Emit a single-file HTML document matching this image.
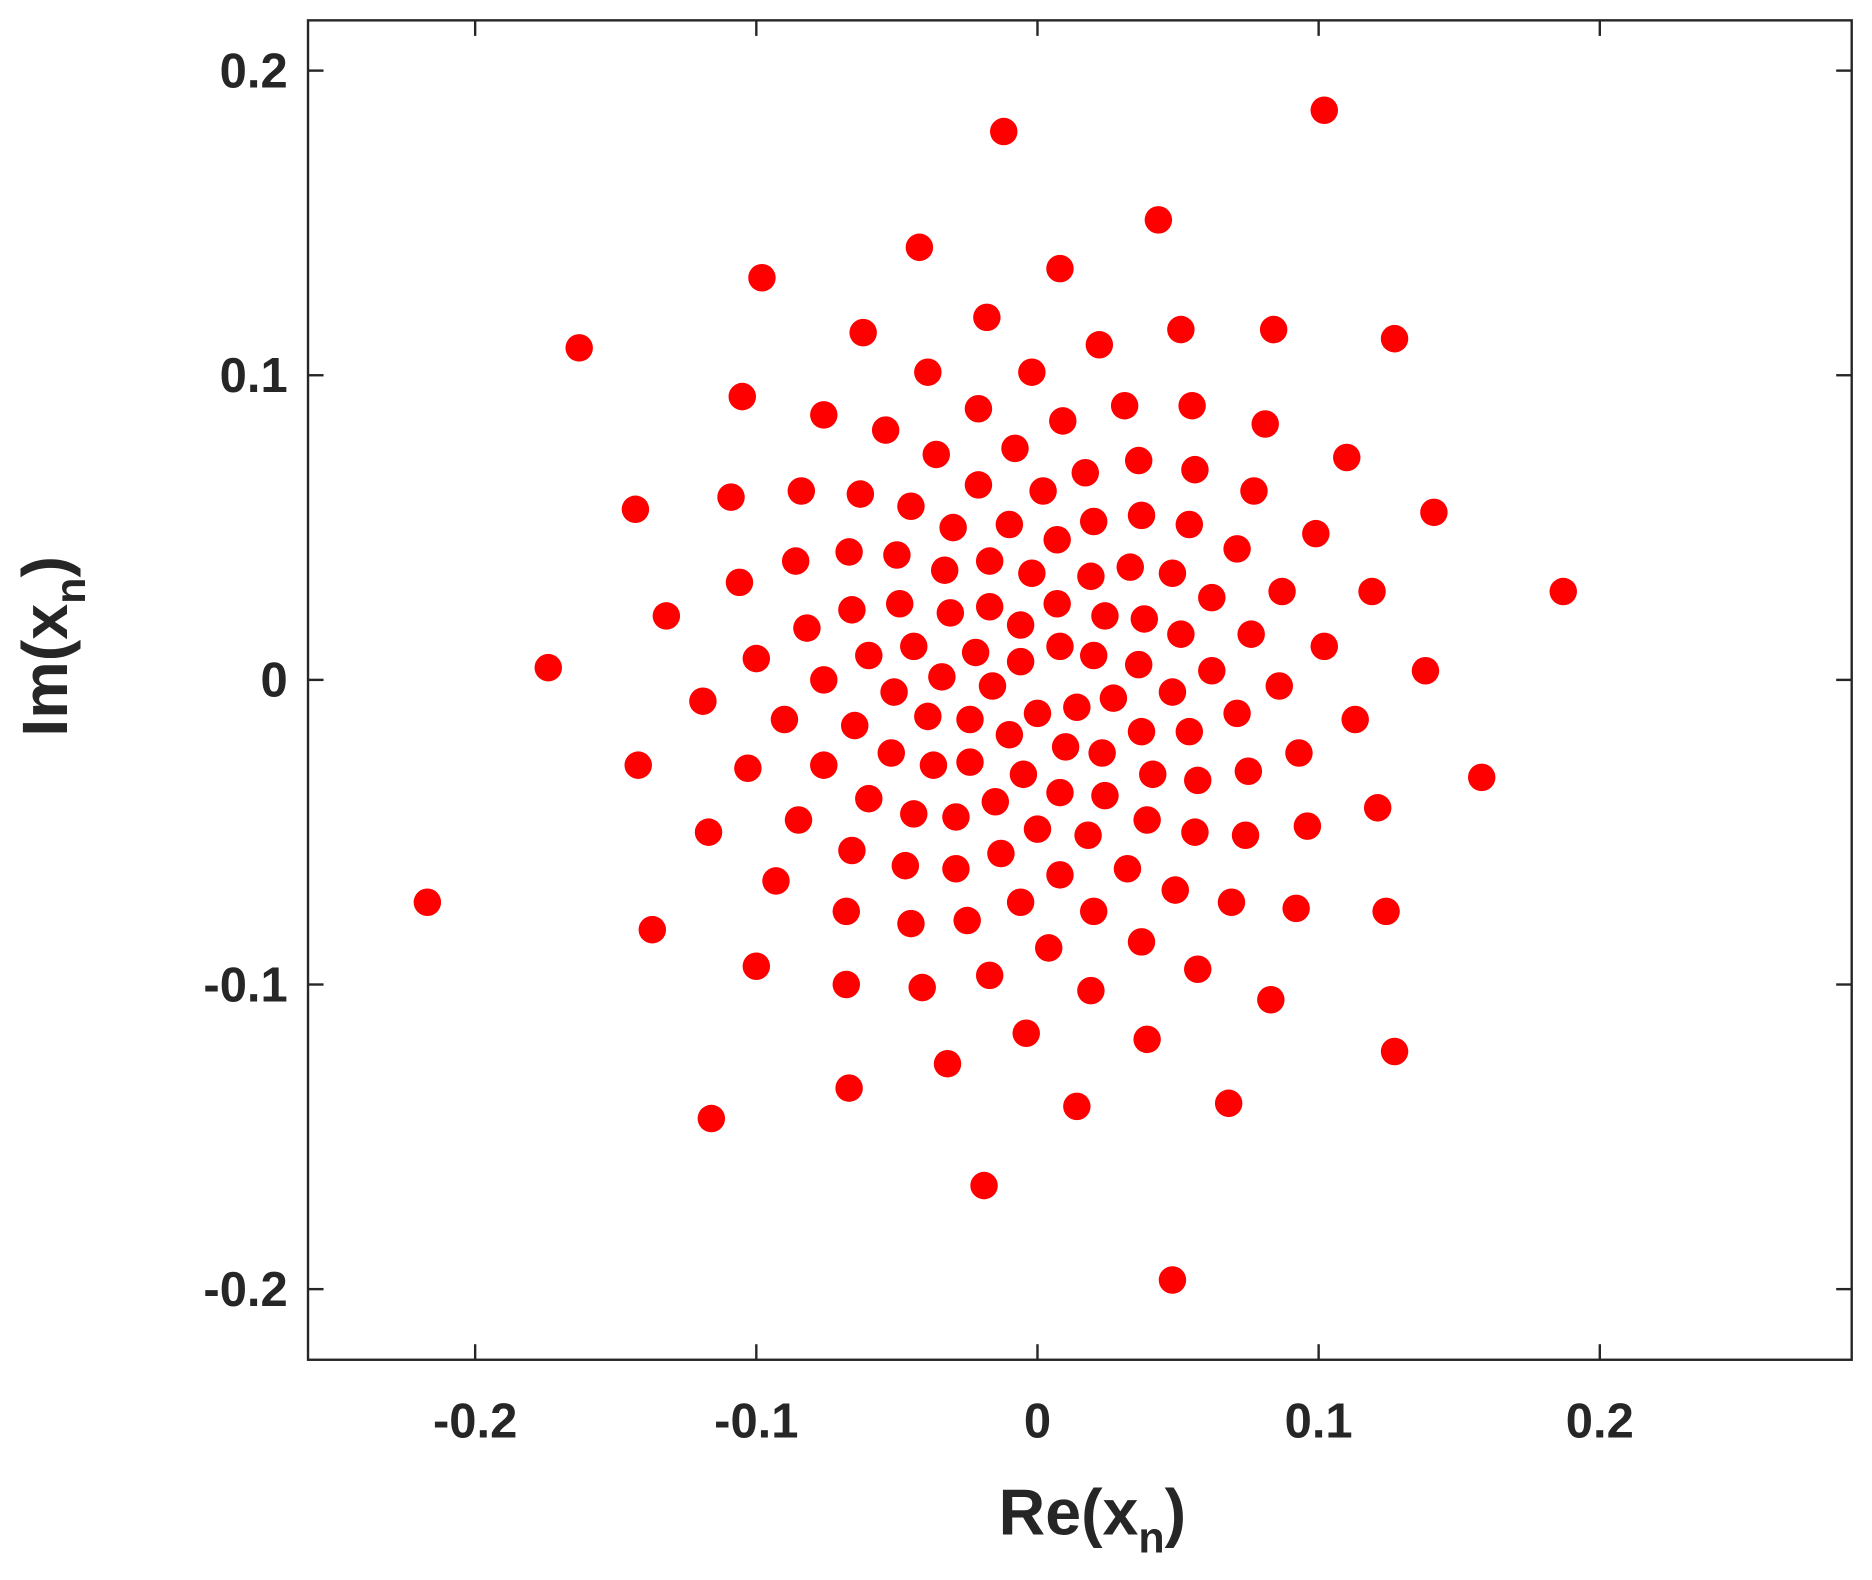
<!DOCTYPE html>
<html><head><meta charset="utf-8"><style>
html,body{margin:0;padding:0;background:#fff}
svg{display:block}
text{font-family:"Liberation Sans",Arial,sans-serif;font-weight:bold;fill:#262626}
</style></head><body>
<svg id="chart" width="1872" height="1580" viewBox="0 0 1568 1320" preserveAspectRatio="none" xmlns="http://www.w3.org/2000/svg">
<rect x="258" y="17" width="1293" height="1119" fill="#fff" stroke="#262626" stroke-width="2"/>
<g id="ticks"></g>
<g id="dots"></g>
<text x="915" y="1282" font-size="54" text-anchor="middle">Re(x<tspan font-size="36" dy="15">n</tspan><tspan dy="-15">)</tspan></text>
<text transform="translate(56,540) rotate(-90)" font-size="54" text-anchor="middle">Im(x<tspan font-size="36" dy="15">n</tspan><tspan dy="-15">)</tspan></text>
</svg>
<script>
const xTicks=[-0.2,-0.1,0,0.1,0.2];
const yTicks=[-0.2,-0.1,0,0.1,0.2];
const xTickLabels=["-0.2","-0.1","0","0.1","0.2"];
const yTickLabels=["-0.2","-0.1","0","0.1","0.2"];
const re=[0.102,-0.012,0.043,-0.042,0.008,-0.098,-0.018,0.051,0.084,-0.062,0.127,0.022,-0.163,-0.039,-0.002,-0.105,0.031,0.055,-0.076,-0.021,0.009,0.081,-0.054,-0.008,-0.036,0.036,0.110,0.017,0.056,-0.084,-0.063,-0.109,-0.021,0.002,0.077,-0.045,-0.143,0.020,0.037,0.141,-0.030,-0.010,0.054,0.099,0.007,0.071,-0.086,-0.067,-0.050,-0.017,0.033,-0.106,-0.033,-0.002,0.048,0.019,0.062,0.087,0.119,0.187,-0.049,-0.066,-0.017,0.007,-0.031,0.024,0.038,-0.132,-0.082,-0.006,0.076,0.051,-0.044,0.008,0.102,-0.022,-0.060,-0.100,0.020,-0.006,0.036,-0.174,0.062,-0.034,0.138,-0.076,-0.016,0.048,-0.051,-0.119,0.027,0.086,0.014,0.000,-0.039,-0.090,0.113,0.071,-0.065,-0.024,0.037,-0.010,0.054,0.010,0.023,0.093,-0.052,-0.024,-0.142,-0.103,-0.037,0.041,-0.076,-0.005,0.075,0.158,0.057,0.008,0.024,-0.060,-0.015,0.121,-0.029,0.039,-0.085,-0.044,0.000,-0.117,0.056,0.074,0.096,0.018,-0.066,-0.013,-0.047,-0.029,0.032,0.008,-0.093,0.049,0.069,-0.006,-0.068,-0.025,0.020,-0.045,0.092,0.124,-0.217,-0.137,0.037,0.004,-0.100,0.057,-0.017,-0.068,-0.041,0.019,0.083,-0.004,0.039,0.127,-0.032,-0.067,0.068,0.014,-0.116,-0.019,0.048];
const im=[0.187,0.180,0.151,0.142,0.135,0.132,0.119,0.115,0.115,0.114,0.112,0.110,0.109,0.101,0.101,0.093,0.090,0.090,0.087,0.089,0.085,0.084,0.082,0.076,0.074,0.072,0.073,0.068,0.069,0.062,0.061,0.060,0.064,0.062,0.062,0.057,0.056,0.052,0.054,0.055,0.050,0.051,0.051,0.048,0.046,0.043,0.039,0.042,0.041,0.039,0.037,0.032,0.036,0.035,0.035,0.034,0.027,0.029,0.029,0.029,0.025,0.023,0.024,0.025,0.022,0.021,0.020,0.021,0.017,0.018,0.015,0.015,0.011,0.011,0.011,0.009,0.008,0.007,0.008,0.006,0.005,0.004,0.003,0.001,0.003,0.000,-0.002,-0.004,-0.004,-0.007,-0.006,-0.002,-0.009,-0.011,-0.012,-0.013,-0.013,-0.011,-0.015,-0.013,-0.017,-0.018,-0.017,-0.022,-0.024,-0.024,-0.024,-0.027,-0.028,-0.029,-0.028,-0.031,-0.028,-0.031,-0.030,-0.032,-0.033,-0.037,-0.038,-0.039,-0.040,-0.042,-0.045,-0.046,-0.046,-0.044,-0.049,-0.050,-0.050,-0.051,-0.048,-0.051,-0.056,-0.057,-0.061,-0.062,-0.062,-0.064,-0.066,-0.069,-0.073,-0.073,-0.076,-0.079,-0.076,-0.080,-0.075,-0.076,-0.073,-0.082,-0.086,-0.088,-0.094,-0.095,-0.097,-0.100,-0.101,-0.102,-0.105,-0.116,-0.118,-0.122,-0.126,-0.134,-0.139,-0.140,-0.144,-0.166,-0.197];
const NS="http://www.w3.org/2000/svg";
function xs(v){return 869+v*2355;}
function ys(v){return 568-v*2545;}
const tg=document.getElementById('ticks');
function mk(tag,attrs,parent){const e=document.createElementNS(NS,tag);for(const k in attrs)e.setAttribute(k,attrs[k]);parent.appendChild(e);return e;}
xTicks.forEach((v,i)=>{
  const x=xs(v);
  const t1=mk('line',{x1:x,x2:x,y1:1136,y2:1123,stroke:'#262626','stroke-width':2},tg);
  
  
  const t2=mk('line',{x1:x,x2:x,y1:17,y2:30,stroke:'#262626','stroke-width':2},tg);
  
  
  const l=mk('text',{x:x,y:1201,'font-size':41,'text-anchor':'middle'},tg);
  l.textContent=xTickLabels[i];
  
  
});
yTicks.forEach((v,i)=>{
  const y=ys(v);
  const t1=mk('line',{x1:258,x2:271,y1:y,y2:y,stroke:'#262626','stroke-width':2},tg);
  
  
  const t2=mk('line',{x1:1551,x2:1538,y1:y,y2:y,stroke:'#262626','stroke-width':2},tg);
  
  
  const l=mk('text',{x:241,y:y+14,'font-size':41,'text-anchor':'end'},tg);
  l.textContent=yTickLabels[i];
  
  
});
const dg=document.getElementById('dots');
for(let i=0;i<re.length;i++){
  const c=mk('circle',{cx:xs(re[i]),cy:ys(im[i]),r:11.5,fill:'#ff0000'},dg);
  
  
}
</script>
</body></html>
